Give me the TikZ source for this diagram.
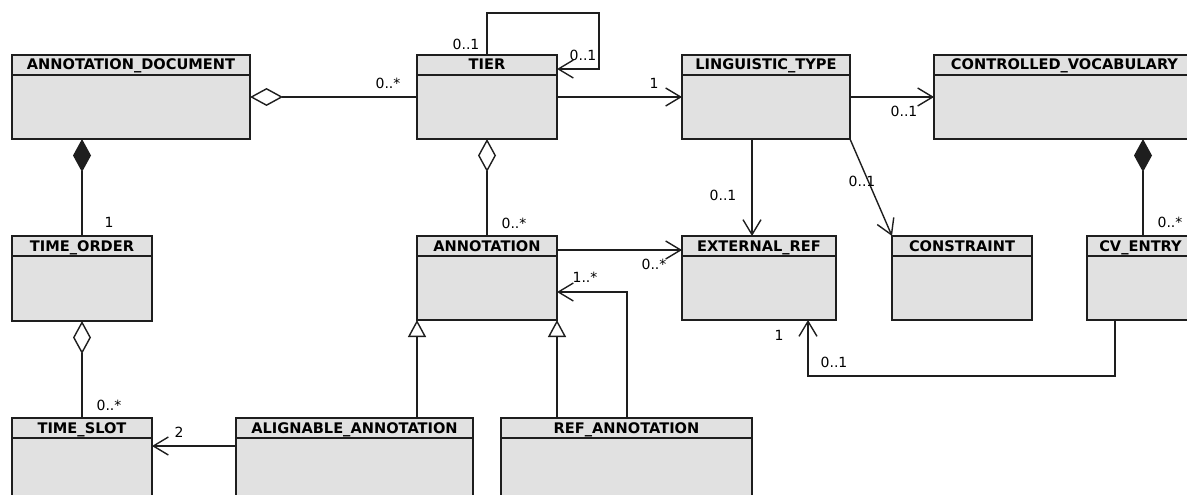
\documentclass[tikz,border=0pt]{standalone}
\usepackage{fontspec}
\setmainfont{DejaVu Sans}
\usetikzlibrary{arrows.meta}
\definecolor{boxfill}{RGB}{225,225,225}
\definecolor{ink}{RGB}{30,30,30}
\tikzset{
  cls/.style={draw=ink, line width=1.6pt, fill=boxfill, rectangle, anchor=north west, inner sep=0pt, outer sep=0pt},
  ttl/.style={font=\bfseries\fontsize{14.6}{15}\selectfont, inner sep=0pt, anchor=base, text=black},
  lbl/.style={font=\fontsize{14}{15}\selectfont, inner sep=0pt, text=black},
  conn/.style={draw=ink, line width=1.4pt},
  nav/.style={conn, -{Straight Barb[length=15pt,width=18pt]}},
  agg/.style={conn, {Diamond[open,length=33pt,width=18pt]}-},
  comp/.style={conn, {Diamond[length=33pt,width=18pt]}-},
  gen/.style={conn, -{Triangle[open,length=17pt,width=18pt]}},
}
\newcommand\umlclass[6]{%
  \node[cls, minimum width={#4pt-#2pt}, minimum height={#5pt-#3pt}] (#1) at (#2,#3) {};
  \draw[conn] ([yshift=-20pt]#1.north west) -- ([yshift=-20pt]#1.north east);
  \node[ttl] (#1-t) at ([yshift=-15pt]#1.north) {#6};
}
\begin{document}
\begin{tikzpicture}[x=1pt,y=-1pt]
\useasboundingbox (0,0) rectangle (1187,495);
\fill[white] (0,0) rectangle (1187,495);
\clip (0,0) rectangle (1187,495);

\umlclass{AD}{12}{55}{250}{139}{ANNOTATION\_DOCUMENT}
\umlclass{TIER}{417}{55}{557}{139}{TIER}
\umlclass{LT}{682}{55}{850}{139}{LINGUISTIC\_TYPE}
\umlclass{CV}{934}{55}{1195}{139}{CONTROLLED\_VOCABULARY}
\umlclass{TO}{12}{236}{152}{321}{TIME\_ORDER}
\umlclass{ANN}{417}{236}{557}{320}{ANNOTATION}
\umlclass{ER}{682}{236}{836}{320}{EXTERNAL\_REF}
\umlclass{CON}{892}{236}{1032}{320}{CONSTRAINT}
\umlclass{CVE}{1087}{236}{1194}{320}{CV\_ENTRY}
\umlclass{TS}{12}{418}{152}{506}{TIME\_SLOT}
\umlclass{AA}{236}{418}{473}{506}{ALIGNABLE\_ANNOTATION}
\umlclass{RA}{501}{418}{752}{506}{REF\_ANNOTATION}

% ANNOTATION_DOCUMENT <>-- TIER
\draw[agg] (AD.east) -- (TIER.west);
\node[lbl] (l1) at (388,83) {0..*};
% ANNOTATION_DOCUMENT <#>-- TIME_ORDER
\draw[comp] ([xshift=70pt]AD.south west) -- ([xshift=70pt]TO.north west);
\node[lbl] (l2) at (109,222) {1};
% TIER self association
\draw[nav] (TIER.north) |- (599,13) |- ([yshift=-14pt]TIER.north east);
\node[lbl] (l3) at (466,44) {0..1};
\node[lbl] (l4) at (583,55) {0..1};
% TIER -> LINGUISTIC_TYPE
\draw[nav] (TIER.east) -- (LT.west);
\node[lbl] (l5) at (654,83) {1};
% TIER <>-- ANNOTATION
\draw[agg] (TIER.south) -- (ANN.north);
\node[lbl] (l6) at (514,223) {0..*};
% LINGUISTIC_TYPE -> EXTERNAL_REF
\draw[nav] ([xshift=70pt]LT.south west) -- ([xshift=70pt]ER.north west);
\node[lbl] (l7) at (723,195) {0..1};
% LINGUISTIC_TYPE -> CONTROLLED_VOCABULARY
\draw[nav] (LT.east) -- (CV.west);
\node[lbl] (l8) at (904,111) {0..1};
% LINGUISTIC_TYPE -> CONSTRAINT
\draw[nav] (LT.south east) -- (CON.north west);
\node[lbl] (l9) at (862,181) {0..1};
% CONTROLLED_VOCABULARY <#>-- CV_ENTRY
\draw[comp] ([xshift=209pt]CV.south west) -- ([xshift=56pt]CVE.north west);
\node[lbl] (l10) at (1170,222) {0..*};
% ANNOTATION -> EXTERNAL_REF
\draw[nav] ([yshift=-14pt]ANN.north east) -- ([yshift=-14pt]ER.north west);
\node[lbl] (l11) at (654,264) {0..*};
% REF_ANNOTATION -> ANNOTATION
\draw[nav] ([xshift=126pt]RA.north west) |- ([yshift=-56pt]ANN.north east);
\node[lbl] (l12) at (585,277) {1..*};
% generalizations
\draw[gen] ([xshift=181pt]AA.north west) -- (ANN.south west);
\draw[gen] ([xshift=56pt]RA.north west) -- (ANN.south east);
% ALIGNABLE_ANNOTATION -> TIME_SLOT
\draw[nav] ([yshift=-28pt]AA.north west) -- ([yshift=-28pt]TS.north east);
\node[lbl] (l13) at (179,432) {2};
% TIME_ORDER <>-- TIME_SLOT
\draw[agg] ([xshift=70pt]TO.south west) -- ([xshift=70pt]TS.north west);
\node[lbl] (l14) at (109,405) {0..*};
% CV_ENTRY -> EXTERNAL_REF
\draw[nav] ([xshift=28pt]CVE.south west) -- ++(0,56) -| ([xshift=126pt]ER.south west);
\node[lbl] (l15) at (779,335) {1};
\node[lbl] (l16) at (834,362) {0..1};
\end{tikzpicture}
\end{document}
